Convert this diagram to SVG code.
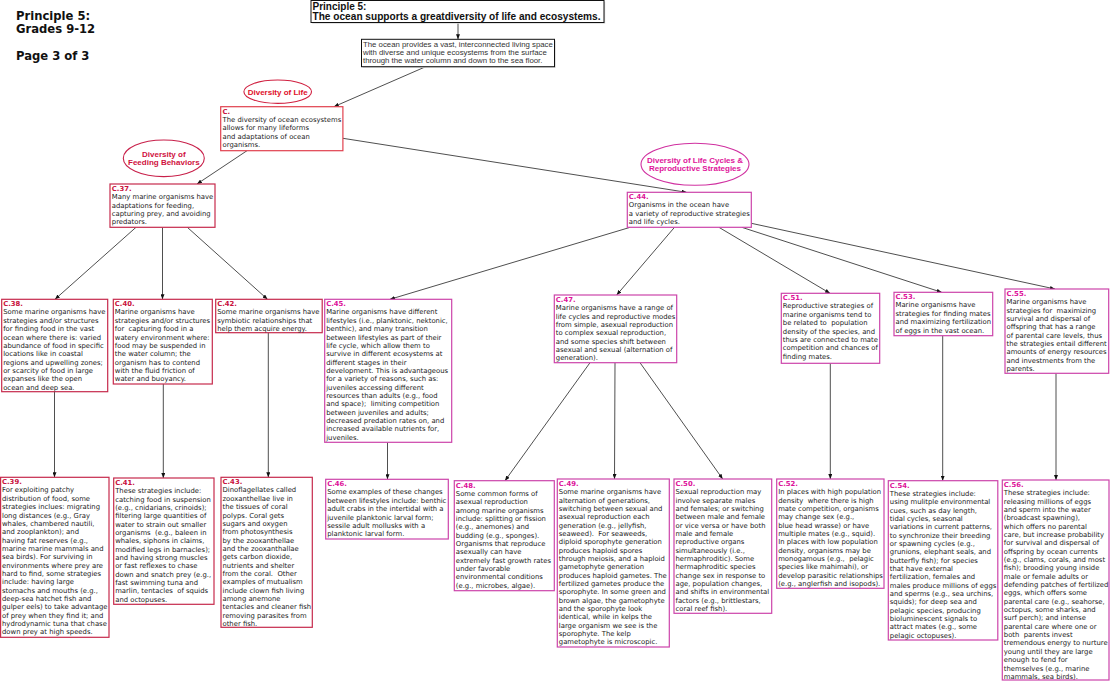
<svg xmlns="http://www.w3.org/2000/svg" width="1110" height="682" viewBox="0 0 1110 682">
<style>
.bg{fill:#fff}
.t{font-family:"DejaVu Sans",Verdana,sans-serif;font-size:6.85px;fill:#222}
.hr{font-weight:bold;fill:#c8103c}
.hm{font-weight:bold;fill:#dd1199}
.sh{fill:#d8d8d8;stroke:none}
.bk{fill:#fff;stroke:#111;stroke-width:1}
.rl{fill:#fff;stroke:#e0404e;stroke-width:1.2}
.rd{fill:#fff;stroke:#c62a4c;stroke-width:1.2}
.mg{fill:#fff;stroke:#cc44aa;stroke-width:1.2}
.el{fill:#fff;stroke-width:1.1}
.et{font-family:"Liberation Sans",Arial,sans-serif;font-weight:bold;font-size:8px;text-anchor:middle}
.big{font-family:"DejaVu Sans",Verdana,sans-serif;font-weight:bold;font-size:11.6px;fill:#111}
.ttl{font-family:"Liberation Sans",Arial,sans-serif;font-weight:bold;font-size:10px;fill:#111}
.intro{font-family:"Liberation Sans",Arial,sans-serif;font-size:7.8px;fill:#333}
.cn line{stroke:#222;stroke-width:0.8;marker-end:url(#ah)}
</style>
<defs>
<marker id="ah" markerUnits="userSpaceOnUse" markerWidth="5" markerHeight="4" refX="5" refY="2" orient="auto">
<path d="M0,0 L5,2 L0,4 z" fill="#111"/>
</marker>
</defs>
<rect class="bg" x="0" y="0" width="1110" height="682"/>

<g id="pagetitle">
<text class="big" x="16" y="19.5">Principle 5:</text>
<text class="big" x="16" y="32.5">Grades 9-12</text>
<text class="big" x="16" y="60">Page 3 of 3</text>
</g>

<g class="cn" id="connectors">
<line x1="458" y1="22.5" x2="458" y2="39.3"/>
<line x1="425.7" y1="66.7" x2="333.9" y2="106.7"/>
<line x1="247" y1="150.7" x2="197" y2="184"/>
<line x1="342.9" y1="138.3" x2="686.5" y2="192.3"/>
<line x1="136" y1="227.3" x2="55" y2="299.3"/>
<line x1="162.5" y1="227.3" x2="162.5" y2="299.3"/>
<line x1="187.3" y1="227.3" x2="267.5" y2="299.3"/>
<line x1="54.5" y1="391.7" x2="54.5" y2="477.3"/>
<line x1="163.3" y1="384" x2="163.3" y2="478"/>
<line x1="268.3" y1="332.7" x2="268.3" y2="477.3"/>
<line x1="630.2" y1="227.3" x2="390" y2="299.3"/>
<line x1="674.5" y1="227.3" x2="616.7" y2="295"/>
<line x1="718.9" y1="227.3" x2="830" y2="293.3"/>
<line x1="741.8" y1="227.3" x2="941.7" y2="292.3"/>
<line x1="751.3" y1="223.3" x2="1055" y2="289"/>
<line x1="387.5" y1="442.3" x2="387.5" y2="479.3"/>
<line x1="590" y1="362.7" x2="505" y2="480.7"/>
<line x1="615" y1="362.7" x2="614.5" y2="479"/>
<line x1="640" y1="362.7" x2="722.7" y2="479"/>
<line x1="830.3" y1="363.3" x2="830.3" y2="479"/>
<line x1="942.7" y1="335.7" x2="942.7" y2="480.7"/>
<line x1="1056" y1="373.3" x2="1056" y2="480"/>
</g>

<g id="principle">
<rect class="sh" x="312.2" y="1.7" width="293" height="22"/>
<rect class="bk" x="311" y="0.5" width="293" height="22"/>
<text class="ttl" x="312.5" y="9.8">Principle 5:</text>
<text class="ttl" x="312.5" y="19.5" textLength="288" lengthAdjust="spacingAndGlyphs">The ocean supports a greatdiversity of life and ecosystems.</text>
</g>

<g id="intro">
<rect class="sh" x="362.7" y="40.5" width="193" height="27.4"/>
<rect class="bk" x="361.5" y="39.3" width="193" height="27.4"/>
<text class="intro" x="363" y="46.5">The ocean provides a vast, interconnected living space</text>
<text class="intro" x="363" y="55">with diverse and unique ecosystems from the surface</text>
<text class="intro" x="363" y="63.3">through the water column and down to the sea floor.</text>
</g>

<g id="lbl-life">
<ellipse class="el" cx="277.7" cy="91.7" rx="33.8" ry="11.7" stroke="#d02040"/>
<text class="et" x="277.7" y="94.5" fill="#e0102a">Diversity of Life</text>
</g>

<g id="lbl-feeding">
<ellipse class="el" cx="163.8" cy="158.3" rx="40.5" ry="18.3" stroke="#c8204a"/>
<text class="et" x="163.8" y="156.8" fill="#d01040">Diversity of</text>
<text class="et" x="163.8" y="165.1" fill="#d01040">Feeding Behaviors</text>
</g>

<g id="lbl-repro">
<ellipse class="el" cx="695" cy="164.3" rx="54" ry="21" stroke="#d030a0"/>
<text class="et" x="695" y="162.8" fill="#e0149a">Diversity of Life Cycles &amp;</text>
<text class="et" x="695" y="171.1" fill="#e0149a">Reproductive Strategies</text>
</g>

<g id="C">
<rect class="rl" x="220.7" y="106.7" width="122.2" height="44"/>
<text class="t" y="113.5"><tspan class="hr" x="222.5">C.</tspan><tspan x="222.5" dy="8.35">The diversity of ocean ecosystems</tspan><tspan x="222.5" dy="8.35">allows for many lifeforms</tspan><tspan x="222.5" dy="8.35">and adaptations of ocean</tspan><tspan x="222.5" dy="8.35">organisms.</tspan></text>
</g>

<g id="C37">
<rect class="rd" x="110" y="184" width="105" height="43.3"/>
<text class="t" y="190.8"><tspan class="hr" x="111.8">C.37.</tspan><tspan x="111.8" dy="8.35">Many marine organisms have</tspan><tspan x="111.8" dy="8.35">adaptations for feeding,</tspan><tspan x="111.8" dy="8.35">capturing prey, and avoiding</tspan><tspan x="111.8" dy="8.35">predators.</tspan></text>
</g>

<g id="C38">
<rect class="rd" x="1.7" y="299.3" width="106" height="92.4"/>
<text class="t" y="306.1"><tspan class="hr" x="3.2">C.38.</tspan><tspan x="3.2" dy="8.35">Some marine organisms have</tspan><tspan x="3.2" dy="8.35">strategies and/or structures</tspan><tspan x="3.2" dy="8.35">for finding food in the vast</tspan><tspan x="3.2" dy="8.35">ocean where there is: varied</tspan><tspan x="3.2" dy="8.35">abundance of food in specific</tspan><tspan x="3.2" dy="8.35">locations like in coastal</tspan><tspan x="3.2" dy="8.35">regions and upwelling zones;</tspan><tspan x="3.2" dy="8.35">or scarcity of food in large</tspan><tspan x="3.2" dy="8.35">expanses like the open</tspan><tspan x="3.2" dy="8.35">ocean and deep sea.</tspan></text>
</g>

<g id="C40">
<rect class="rd" x="113.3" y="299.3" width="99" height="84.7"/>
<text class="t" y="306.1" xml:space="preserve"><tspan class="hr" x="114.8">C.40.</tspan><tspan x="114.8" dy="8.35">Marine organisms have</tspan><tspan x="114.8" dy="8.35">strategies and/or structures</tspan><tspan x="114.8" dy="8.35">for  capturing food in a</tspan><tspan x="114.8" dy="8.35">watery environment where:</tspan><tspan x="114.8" dy="8.35">food may be suspended in</tspan><tspan x="114.8" dy="8.35">the water column; the</tspan><tspan x="114.8" dy="8.35">organism has to contend</tspan><tspan x="114.8" dy="8.35">with the fluid friction of</tspan><tspan x="114.8" dy="8.35">water and buoyancy.</tspan></text>
</g>

<g id="C42">
<rect class="rd" x="215.7" y="299.3" width="106.5" height="33.4"/>
<text class="t" y="306.1"><tspan class="hr" x="217.2">C.42.</tspan><tspan x="217.2" dy="8.35">Some marine organisms have</tspan><tspan x="217.2" dy="8.35">symbiotic relationships that</tspan><tspan x="217.2" dy="8.35">help them acquire energy.</tspan></text>
</g>

<g id="C39">
<rect class="rd" x="0.6" y="477.3" width="108.4" height="160"/>
<text class="t" y="484.1"><tspan class="hr" x="2">C.39.</tspan><tspan x="2" dy="8.35">For exploiting patchy</tspan><tspan x="2" dy="8.35">distribution of food, some</tspan><tspan x="2" dy="8.35">strategies inclues: migrating</tspan><tspan x="2" dy="8.35">long distances (e.g., Gray</tspan><tspan x="2" dy="8.35">whales, chambered nautili,</tspan><tspan x="2" dy="8.35">and zooplankton); and</tspan><tspan x="2" dy="8.35">having fat reserves (e.g.,</tspan><tspan x="2" dy="8.35">marine marine mammals and</tspan><tspan x="2" dy="8.35">sea birds). For surviving in</tspan><tspan x="2" dy="8.35">environments where prey are</tspan><tspan x="2" dy="8.35">hard to find, some strategies</tspan><tspan x="2" dy="8.35">include: having large</tspan><tspan x="2" dy="8.35">stomachs and mouths (e.g.,</tspan><tspan x="2" dy="8.35">deep-sea hatchet fish and</tspan><tspan x="2" dy="8.35">gulper eels) to take advantage</tspan><tspan x="2" dy="8.35">of prey when they find it; and</tspan><tspan x="2" dy="8.35">hydrodynamic tuna that chase</tspan><tspan x="2" dy="8.35">down prey at high speeds.</tspan></text>
</g>

<g id="C41">
<rect class="rd" x="113.7" y="478" width="100.3" height="126.3"/>
<text class="t" y="484.8" xml:space="preserve"><tspan class="hr" x="115.2">C.41.</tspan><tspan x="115.2" dy="8.35">These strategies include:</tspan><tspan x="115.2" dy="8.35">catching food in suspension</tspan><tspan x="115.2" dy="8.35">(e.g., cnidarians, crinoids);</tspan><tspan x="115.2" dy="8.35">filtering large quantities of</tspan><tspan x="115.2" dy="8.35">water to strain out smaller</tspan><tspan x="115.2" dy="8.35">organisms  (e.g., baleen in</tspan><tspan x="115.2" dy="8.35">whales, siphons in claims,</tspan><tspan x="115.2" dy="8.35">modified legs in barnacles);</tspan><tspan x="115.2" dy="8.35">and having strong muscles</tspan><tspan x="115.2" dy="8.35">or fast reflexes to chase</tspan><tspan x="115.2" dy="8.35">down and snatch prey (e.g.,</tspan><tspan x="115.2" dy="8.35">fast swimming tuna and</tspan><tspan x="115.2" dy="8.35">marlin, tentacles  of squids</tspan><tspan x="115.2" dy="8.35">and octopuses.</tspan></text>
</g>

<g id="C43">
<rect class="rd" x="221" y="477.3" width="91.3" height="150"/>
<text class="t" y="484.1" xml:space="preserve"><tspan class="hr" x="222.5">C.43.</tspan><tspan x="222.5" dy="8.35">Dinoflagellates called</tspan><tspan x="222.5" dy="8.35">zooxanthellae live in</tspan><tspan x="222.5" dy="8.35">the tissues of coral</tspan><tspan x="222.5" dy="8.35">polyps. Coral gets</tspan><tspan x="222.5" dy="8.35">sugars and oxygen</tspan><tspan x="222.5" dy="8.35">from photosynthesis</tspan><tspan x="222.5" dy="8.35">by the zooxanthellae</tspan><tspan x="222.5" dy="8.35">and the zooxanthallae</tspan><tspan x="222.5" dy="8.35">gets carbon dioxide,</tspan><tspan x="222.5" dy="8.35">nutrients and shelter</tspan><tspan x="222.5" dy="8.35">from the coral.  Other</tspan><tspan x="222.5" dy="8.35">examples of mutualism</tspan><tspan x="222.5" dy="8.35">include clown fish living</tspan><tspan x="222.5" dy="8.35">among anemone</tspan><tspan x="222.5" dy="8.35">tentacles and cleaner fish</tspan><tspan x="222.5" dy="8.35">removing parasites from</tspan><tspan x="222.5" dy="8.35">other fish.</tspan></text>
</g>

<g id="C44">
<rect class="mg" x="627.3" y="192.3" width="124" height="35"/>
<text class="t" y="199.1"><tspan class="hm" x="628.8">C.44.</tspan><tspan x="628.8" dy="8.35">Organisms in the ocean have</tspan><tspan x="628.8" dy="8.35">a variety of reproductive strategies</tspan><tspan x="628.8" dy="8.35">and life cycles.</tspan></text>
</g>

<g id="C45">
<rect class="mg" x="324.7" y="299.3" width="127" height="143"/>
<text class="t" y="306.1" xml:space="preserve"><tspan class="hm" x="326.2">C.45.</tspan><tspan x="326.2" dy="8.35">Marine organisms have different</tspan><tspan x="326.2" dy="8.35">lifestyles (i.e., planktonic, nektonic,</tspan><tspan x="326.2" dy="8.35">benthic), and many transition</tspan><tspan x="326.2" dy="8.35">between lifestyles as part of their</tspan><tspan x="326.2" dy="8.35">life cycle, which allow them to</tspan><tspan x="326.2" dy="8.35">survive in different ecosystems at</tspan><tspan x="326.2" dy="8.35">different stages in their</tspan><tspan x="326.2" dy="8.35">development. This is advantageous</tspan><tspan x="326.2" dy="8.35">for a variety of reasons, such as:</tspan><tspan x="326.2" dy="8.35">juveniles accessing different</tspan><tspan x="326.2" dy="8.35">resources than adults (e.g., food</tspan><tspan x="326.2" dy="8.35">and space);  limiting competition</tspan><tspan x="326.2" dy="8.35">between juveniles and adults;</tspan><tspan x="326.2" dy="8.35">decreased predation rates on, and</tspan><tspan x="326.2" dy="8.35">increased available nutrients for,</tspan><tspan x="326.2" dy="8.35">juveniles.</tspan></text>
</g>

<g id="C47">
<rect class="mg" x="554.3" y="295" width="122.4" height="67.7"/>
<text class="t" y="301.8"><tspan class="hm" x="555.8">C.47.</tspan><tspan x="555.8" dy="8.35">Marine organisms have a range of</tspan><tspan x="555.8" dy="8.35">life cycles and reproductive modes</tspan><tspan x="555.8" dy="8.35">from simple, asexual reproduction</tspan><tspan x="555.8" dy="8.35">to complex sexual reproduction,</tspan><tspan x="555.8" dy="8.35">and some species shift between</tspan><tspan x="555.8" dy="8.35">asexual and sexual (alternation of</tspan><tspan x="555.8" dy="8.35">generation).</tspan></text>
</g>

<g id="C51">
<rect class="mg" x="781.3" y="293.3" width="98.4" height="70"/>
<text class="t" y="300.1" xml:space="preserve"><tspan class="hm" x="782.8">C.51.</tspan><tspan x="782.8" dy="8.35">Reproductive strategies of</tspan><tspan x="782.8" dy="8.35">marine organisms tend to</tspan><tspan x="782.8" dy="8.35">be related to  population</tspan><tspan x="782.8" dy="8.35">density of the species, and</tspan><tspan x="782.8" dy="8.35">thus are connected to mate</tspan><tspan x="782.8" dy="8.35">competition and chances of</tspan><tspan x="782.8" dy="8.35">finding mates.</tspan></text>
</g>

<g id="C53">
<rect class="mg" x="894" y="292.3" width="98.7" height="43.4"/>
<text class="t" y="299.1"><tspan class="hm" x="895.5">C.53.</tspan><tspan x="895.5" dy="8.35">Marine organisms have</tspan><tspan x="895.5" dy="8.35">strategies for finding mates</tspan><tspan x="895.5" dy="8.35">and maximizing fertilization</tspan><tspan x="895.5" dy="8.35">of eggs in the vast ocean.</tspan></text>
</g>

<g id="C55">
<rect class="mg" x="1005" y="289" width="103.7" height="84.3"/>
<text class="t" y="295.8" xml:space="preserve"><tspan class="hm" x="1006.5">C.55.</tspan><tspan x="1006.5" dy="8.35">Marine organisms have</tspan><tspan x="1006.5" dy="8.35">strategies for  maximizing</tspan><tspan x="1006.5" dy="8.35">survival and dispersal of</tspan><tspan x="1006.5" dy="8.35">offspring that has a range</tspan><tspan x="1006.5" dy="8.35">of parental care levels, thus</tspan><tspan x="1006.5" dy="8.35">the strategies entail different</tspan><tspan x="1006.5" dy="8.35">amounts of energy resources</tspan><tspan x="1006.5" dy="8.35">and investments from the</tspan><tspan x="1006.5" dy="8.35">parents.</tspan></text>
</g>

<g id="C46">
<rect class="mg" x="325.7" y="479.3" width="122.6" height="59.7"/>
<text class="t" y="486.1"><tspan class="hm" x="327.2">C.46.</tspan><tspan x="327.2" dy="8.35">Some examples of these changes</tspan><tspan x="327.2" dy="8.35">between lifestyles include: benthic</tspan><tspan x="327.2" dy="8.35">adult crabs in the intertidal with a</tspan><tspan x="327.2" dy="8.35">juvenile planktonic larval form;</tspan><tspan x="327.2" dy="8.35">sessile adult mollusks with a</tspan><tspan x="327.2" dy="8.35">planktonic larval form.</tspan></text>
</g>

<g id="C48">
<rect class="mg" x="454.3" y="480.7" width="100" height="110"/>
<text class="t" y="487.5"><tspan class="hm" x="455.8">C.48.</tspan><tspan x="455.8" dy="8.35">Some common forms of</tspan><tspan x="455.8" dy="8.35">asexual reproduction</tspan><tspan x="455.8" dy="8.35">among marine organisms</tspan><tspan x="455.8" dy="8.35">include: splitting or fission</tspan><tspan x="455.8" dy="8.35">(e.g., anemones) and</tspan><tspan x="455.8" dy="8.35">budding (e.g., sponges).</tspan><tspan x="455.8" dy="8.35">Organisms that reproduce</tspan><tspan x="455.8" dy="8.35">asexually can have</tspan><tspan x="455.8" dy="8.35">extremely fast growth rates</tspan><tspan x="455.8" dy="8.35">under favorable</tspan><tspan x="455.8" dy="8.35">environmental conditions</tspan><tspan x="455.8" dy="8.35">(e.g., microbes, algae).</tspan></text>
</g>

<g id="C49">
<rect class="mg" x="557.3" y="479" width="112" height="168"/>
<text class="t" y="485.8" xml:space="preserve"><tspan class="hm" x="558.8">C.49.</tspan><tspan x="558.8" dy="8.35">Some marine organisms have</tspan><tspan x="558.8" dy="8.35">alternation of generations,</tspan><tspan x="558.8" dy="8.35">switching between sexual and</tspan><tspan x="558.8" dy="8.35">asexual reproduction each</tspan><tspan x="558.8" dy="8.35">generation (e.g., jellyfish,</tspan><tspan x="558.8" dy="8.35">seaweed).  For seaweeds,</tspan><tspan x="558.8" dy="8.35">diploid sporophyte generation</tspan><tspan x="558.8" dy="8.35">produces haploid spores</tspan><tspan x="558.8" dy="8.35">through meiosis, and a haploid</tspan><tspan x="558.8" dy="8.35">gametophyte generation</tspan><tspan x="558.8" dy="8.35">produces haploid gametes. The</tspan><tspan x="558.8" dy="8.35">fertilized gametes produce the</tspan><tspan x="558.8" dy="8.35">sporophyte. In some green and</tspan><tspan x="558.8" dy="8.35">brown algae, the gametophyte</tspan><tspan x="558.8" dy="8.35">and the sporophyte look</tspan><tspan x="558.8" dy="8.35">identical, while in kelps the</tspan><tspan x="558.8" dy="8.35">large organism we see is the</tspan><tspan x="558.8" dy="8.35">sporophyte. The kelp</tspan><tspan x="558.8" dy="8.35">gametophyte is microscopic.</tspan></text>
</g>

<g id="C50">
<rect class="mg" x="674" y="479" width="97.7" height="134.3"/>
<text class="t" y="485.8"><tspan class="hm" x="675.5">C.50.</tspan><tspan x="675.5" dy="8.35">Sexual reproduction may</tspan><tspan x="675.5" dy="8.35">involve separate males</tspan><tspan x="675.5" dy="8.35">and females; or switching</tspan><tspan x="675.5" dy="8.35">between male and female</tspan><tspan x="675.5" dy="8.35">or vice versa or have both</tspan><tspan x="675.5" dy="8.35">male and female</tspan><tspan x="675.5" dy="8.35">reproductive organs</tspan><tspan x="675.5" dy="8.35">simultaneously (i.e.,</tspan><tspan x="675.5" dy="8.35">hermaphroditic). Some</tspan><tspan x="675.5" dy="8.35">hermaphroditic species</tspan><tspan x="675.5" dy="8.35">change sex in response to</tspan><tspan x="675.5" dy="8.35">age, population changes,</tspan><tspan x="675.5" dy="8.35">and shifts in environmental</tspan><tspan x="675.5" dy="8.35">factors (e.g., brittlestars,</tspan><tspan x="675.5" dy="8.35">coral reef fish).</tspan></text>
</g>

<g id="C52">
<rect class="mg" x="776.7" y="479" width="107.3" height="109.3"/>
<text class="t" y="485.8" xml:space="preserve"><tspan class="hm" x="778.2">C.52.</tspan><tspan x="778.2" dy="8.35">In places with high population</tspan><tspan x="778.2" dy="8.35">density  where there is high</tspan><tspan x="778.2" dy="8.35">mate competition, organisms</tspan><tspan x="778.2" dy="8.35">may change sex (e.g.,</tspan><tspan x="778.2" dy="8.35">blue head wrasse) or have</tspan><tspan x="778.2" dy="8.35">multiple mates (e.g., squid).</tspan><tspan x="778.2" dy="8.35">In places with low population</tspan><tspan x="778.2" dy="8.35">density, organisms may be</tspan><tspan x="778.2" dy="8.35">monogamous (e.g.,  pelagic</tspan><tspan x="778.2" dy="8.35">species like mahimahi), or</tspan><tspan x="778.2" dy="8.35">develop parasitic relationships</tspan><tspan x="778.2" dy="8.35">(e.g., anglerfish and isopods).</tspan></text>
</g>

<g id="C54">
<rect class="mg" x="888.3" y="480.7" width="109.5" height="159.3"/>
<text class="t" y="487.5"><tspan class="hm" x="889.8">C.54.</tspan><tspan x="889.8" dy="8.35">These strategies include:</tspan><tspan x="889.8" dy="8.35">using mulitple environmental</tspan><tspan x="889.8" dy="8.35">cues, such as day length,</tspan><tspan x="889.8" dy="8.35">tidal cycles, seasonal</tspan><tspan x="889.8" dy="8.35">variations in current patterns,</tspan><tspan x="889.8" dy="8.35">to synchronize their breeding</tspan><tspan x="889.8" dy="8.35">or spawning cycles (e.g.,</tspan><tspan x="889.8" dy="8.35">grunions, elephant seals, and</tspan><tspan x="889.8" dy="8.35">butterfly fish); for species</tspan><tspan x="889.8" dy="8.35">that have external</tspan><tspan x="889.8" dy="8.35">fertilization, females and</tspan><tspan x="889.8" dy="8.35">males produce millions of eggs</tspan><tspan x="889.8" dy="8.35">and sperms (e.g., sea urchins,</tspan><tspan x="889.8" dy="8.35">squids); for deep sea and</tspan><tspan x="889.8" dy="8.35">pelagic species, producing</tspan><tspan x="889.8" dy="8.35">bioluminescent signals to</tspan><tspan x="889.8" dy="8.35">attract mates (e.g., some</tspan><tspan x="889.8" dy="8.35">pelagic octopuses).</tspan></text>
</g>

<g id="C56">
<rect class="mg" x="1002.3" y="480" width="106.7" height="200"/>
<text class="t" y="486.8" xml:space="preserve"><tspan class="hm" x="1003.8">C.56.</tspan><tspan x="1003.8" dy="8.35">These strategies include:</tspan><tspan x="1003.8" dy="8.35">releasing millions of eggs</tspan><tspan x="1003.8" dy="8.35">and sperm into the water</tspan><tspan x="1003.8" dy="8.35">(broadcast spawning),</tspan><tspan x="1003.8" dy="8.35">which offers no parental</tspan><tspan x="1003.8" dy="8.35">care, but increase probability</tspan><tspan x="1003.8" dy="8.35">for survival and dispersal of</tspan><tspan x="1003.8" dy="8.35">offspring by ocean currents</tspan><tspan x="1003.8" dy="8.35">(e.g., clams, corals, and most</tspan><tspan x="1003.8" dy="8.35">fish); brooding young inside</tspan><tspan x="1003.8" dy="8.35">male or female adults or</tspan><tspan x="1003.8" dy="8.35">defending patches of fertilized</tspan><tspan x="1003.8" dy="8.35">eggs, which offers some</tspan><tspan x="1003.8" dy="8.35">parental care (e.g., seahorse,</tspan><tspan x="1003.8" dy="8.35">octopus, some sharks, and</tspan><tspan x="1003.8" dy="8.35">surf perch); and intense</tspan><tspan x="1003.8" dy="8.35">parental care where one or</tspan><tspan x="1003.8" dy="8.35">both  parents invest</tspan><tspan x="1003.8" dy="8.35">tremendous energy to nurture</tspan><tspan x="1003.8" dy="8.35">young until they are large</tspan><tspan x="1003.8" dy="8.35">enough to fend for</tspan><tspan x="1003.8" dy="8.35">themselves (e.g., marine</tspan><tspan x="1003.8" dy="8.35">mammals, sea birds).</tspan></text>
</g>
</svg>
